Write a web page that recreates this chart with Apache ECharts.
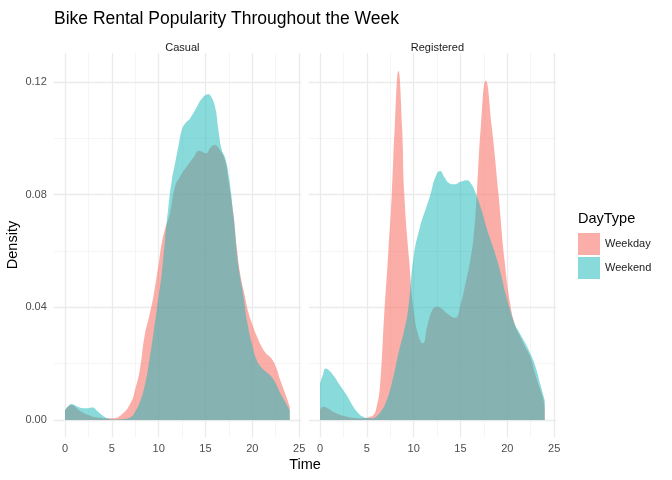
<!DOCTYPE html>
<html>
<head>
<meta charset="utf-8">
<script src="https://cdn.jsdelivr.net/npm/echarts@6/dist/echarts.min.js"></script>
<style>
  html, body { margin: 0; padding: 0; background: #fff; }
  #chart { width: 672px; height: 480px; }
</style>
</head>
<body>
<div id="chart"></div>
<script>
// density estimates: [hour, density]
const casualWeekday = [
  [0, 0.0035], [0.7, 0.0053], [1.5, 0.0035], [2.5, 0.0018], [3.5, 0.0009], [5, 0.0006],
  [6, 0.0018], [7, 0.006], [7.5, 0.011], [8, 0.018], [8.5, 0.030], [9, 0.037], [9.5, 0.045],
  [10, 0.0555], [10.33, 0.0627], [10.7, 0.068], [11.2, 0.0733], [11.75, 0.0828], [12.3, 0.0865],
  [13, 0.0899], [13.7, 0.093], [14.35, 0.0955], [15.06, 0.0946], [15.5, 0.0965], [15.92, 0.0976],
  [16.5, 0.096], [17.1, 0.092], [17.45, 0.085], [17.98, 0.0733], [18.34, 0.0615], [18.7, 0.052],
  [19.2, 0.044], [19.6, 0.038], [20, 0.034], [20.5, 0.0296], [21, 0.026], [21.5, 0.0235],
  [22, 0.022], [22.5, 0.019], [23, 0.014], [23.5, 0.0095], [24, 0.0047]
];
const casualWeekend = [
  [0, 0.0035], [0.3, 0.0048], [0.7, 0.0057], [1.2, 0.005], [1.8, 0.0043], [2.5, 0.0042],
  [2.9, 0.0044], [3.5, 0.003], [4, 0.0016], [4.5, 0.0006], [5, 0.0002], [6, 0.0003], [7, 0.001],
  [7.5, 0.003], [8, 0.0065], [8.5, 0.012], [9, 0.021], [9.5, 0.032], [10, 0.044], [10.33, 0.052],
  [10.68, 0.0639], [11.04, 0.0757], [11.4, 0.085], [11.75, 0.091], [12.1, 0.097], [12.47, 0.1029],
  [12.82, 0.1052], [13.35, 0.107], [14.07, 0.111], [14.6, 0.114], [15.31, 0.1156], [15.6, 0.1148],
  [16.03, 0.111], [16.38, 0.1029], [16.74, 0.0958], [17.1, 0.093], [17.5, 0.0863], [18, 0.072],
  [18.5, 0.055], [19, 0.045], [19.5, 0.034], [20, 0.0265], [20.5, 0.021], [21, 0.0185],
  [21.5, 0.017], [22, 0.0155], [22.5, 0.013], [23, 0.0095], [23.5, 0.0065], [24, 0.0035]
];
const registeredWeekday = [
  [0, 0.0036], [0.36, 0.0047], [0.8, 0.0042], [1.5, 0.0028], [2.5, 0.0015], [3.5, 0.0008],
  [4.5, 0.0006], [5.2, 0.001], [5.7, 0.0018], [6, 0.004], [6.4, 0.012], [6.84, 0.0367],
  [7.3, 0.060], [7.66, 0.080], [7.98, 0.104], [8.37, 0.1238], [8.76, 0.104], [9.0, 0.080],
  [9.51, 0.057], [10, 0.039], [10.5, 0.030], [10.97, 0.0272], [11.5, 0.034], [12, 0.039],
  [12.47, 0.0402], [13, 0.0395], [13.5, 0.038], [14.42, 0.0363], [15, 0.041], [15.5, 0.048],
  [16, 0.056], [16.4, 0.065], [16.74, 0.0804], [17.17, 0.104], [17.7, 0.1204], [18.34, 0.104],
  [19.05, 0.0804], [19.7, 0.0568], [20.3, 0.0414], [20.8, 0.034], [21.37, 0.0296], [21.9, 0.026],
  [22.44, 0.0225], [23, 0.016], [23.5, 0.011], [23.86, 0.0071], [24, 0.004]
];
const registeredWeekend = [
  [0, 0.013], [0.3, 0.016], [0.6, 0.0183], [1, 0.0175], [1.5, 0.0155], [2, 0.013], [2.5, 0.0106],
  [3, 0.008], [3.5, 0.005], [4, 0.0028], [4.5, 0.0013], [5, 0.0007], [5.5, 0.0006], [6, 0.0012],
  [6.5, 0.003], [7, 0.006], [7.66, 0.013], [8.47, 0.025], [9, 0.032], [9.44, 0.040], [10, 0.058],
  [10.68, 0.0686], [11.3, 0.075], [11.82, 0.0804], [12.3, 0.086], [12.82, 0.0883], [13.3, 0.086],
  [13.8, 0.084], [14.35, 0.0836], [15, 0.0845], [15.67, 0.0851], [16.1, 0.084], [16.63, 0.0804],
  [17.2, 0.075], [17.8, 0.068], [18.3, 0.063], [18.8, 0.058], [19.3, 0.052], [19.8, 0.045],
  [20.3, 0.039], [20.8, 0.034], [21.3, 0.031], [21.8, 0.028], [22.4, 0.024], [23, 0.019],
  [23.5, 0.013], [24, 0.007]
];

const panels = ['Casual', 'Registered'];
const dayTypes = ['Weekday', 'Weekend'];
const xTicks = [0, 5, 10, 15, 20, 25];
const xMinor = [2.5, 7.5, 12.5, 17.5, 22.5];
const yTicks = [0, 0.04, 0.08, 0.12];
const yMinor = [0.02, 0.06, 0.10];

const FONT = '"Liberation Sans", Arial, Helvetica, sans-serif';
const fills = ['rgba(248,118,109,0.6)', 'rgba(30,185,187,0.53)'];
const panelLeft = [53.8, 308.8];
const panelW = 247.2;

const chart = echarts.init(document.getElementById('chart'));

const grids = [], xAxes = [], yAxes = [], series = [];
panels.forEach(function (p, i) {
  grids.push({left: panelLeft[i], top: 53, width: panelW, height: 384.5});
  xAxes.push({
    type: 'value', gridIndex: i, min: -1.2, max: 25.2,
    axisLine: {show: false}, axisTick: {show: false}, splitLine: {show: false},
    axisLabel: {customValues: xTicks, color: '#4D4D4D', fontSize: 11, fontFamily: FONT, margin: 6}
  });
  yAxes.push({
    type: 'value', gridIndex: i, min: -0.0062, max: 0.1302,
    axisLine: {show: false}, axisTick: {show: false}, splitLine: {show: false},
    axisLabel: {show: i === 0, customValues: yTicks, color: '#4D4D4D', fontSize: 11, fontFamily: FONT, margin: 7,
      formatter: function (v) { return v.toFixed(2); }}
  });
  // grid lines
  const lines = [];
  xMinor.forEach(function (v) { lines.push({xAxis: v, lineStyle: {color: '#F2F2F2', width: 0.8}}); });
  yMinor.forEach(function (v) { lines.push({yAxis: v, lineStyle: {color: '#F2F2F2', width: 0.8}}); });
  xTicks.forEach(function (v) { lines.push({xAxis: v, lineStyle: {color: '#EBEBEB', width: 1.3}}); });
  yTicks.forEach(function (v) { lines.push({yAxis: v, lineStyle: {color: '#EBEBEB', width: 1.3}}); });
  series.push({
    type: 'line', xAxisIndex: i, yAxisIndex: i, data: [], silent: true, z: 0,
    markLine: {silent: true, symbol: ['none', 'none'], label: {show: false}, z: 0,
      animation: false, lineStyle: {type: 'solid'}, data: lines}
  });
});

const dataSets = [[casualWeekday, casualWeekend], [registeredWeekday, registeredWeekend]];
dataSets.forEach(function (pair, i) {
  pair.forEach(function (d, k) {
    series.push({
      name: dayTypes[k], type: 'line', xAxisIndex: i, yAxisIndex: i, data: d,
      smooth: 0.5, showSymbol: false, silent: true, z: 2 + k,
      itemStyle: {color: fills[k]},
      lineStyle: {width: 0},
      areaStyle: {color: fills[k], opacity: 1, origin: 0}
    });
  });
});

chart.setOption({
  animation: false,
  backgroundColor: '#fff',
  textStyle: {fontFamily: FONT},
  title: [
    {text: 'Bike Rental Popularity Throughout the Week', left: 49, top: 5,
      textStyle: {fontSize: 17.5, fontWeight: 'normal', color: '#000', fontFamily: FONT}},
    {text: 'Casual', left: 177.4, top: 37, textAlign: 'center',
      textStyle: {fontSize: 11, fontWeight: 'normal', color: '#1A1A1A', fontFamily: FONT}},
    {text: 'Registered', left: 432.4, top: 37, textAlign: 'center',
      textStyle: {fontSize: 11, fontWeight: 'normal', color: '#1A1A1A', fontFamily: FONT}}
  ],
  graphic: [
    {type: 'text', x: 305, y: 465,
      style: {text: 'Time', font: '14.5px ' + FONT, fill: '#000', textAlign: 'center', textVerticalAlign: 'middle'}},
    {type: 'text', rotation: Math.PI / 2, x: 13, y: 245,
      style: {text: 'Density', font: '14.5px ' + FONT, fill: '#000', textAlign: 'center', textVerticalAlign: 'middle'}},
    {type: 'text', x: 578, y: 219,
      style: {text: 'DayType', font: '14.5px ' + FONT, fill: '#000', textAlign: 'left', textVerticalAlign: 'middle'}}
  ],
  legend: {
    orient: 'vertical', left: 573, top: 228, itemWidth: 22, itemHeight: 22, itemGap: 2,
    icon: 'rect', data: dayTypes, selectedMode: false,
    textStyle: {fontSize: 11, color: '#1A1A1A', fontFamily: FONT}
  },
  grid: grids,
  xAxis: xAxes,
  yAxis: yAxes,
  series: series
});
</script>
</body>
</html>
